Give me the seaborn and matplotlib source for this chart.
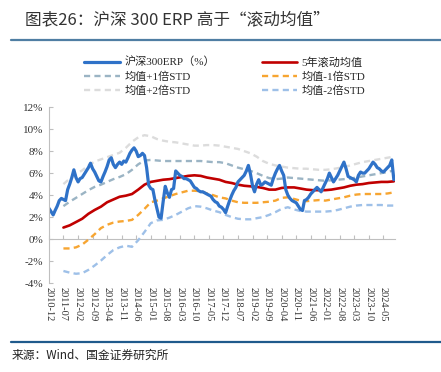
import matplotlib
matplotlib.use("Agg")
import matplotlib.pyplot as plt
from matplotlib.lines import Line2D
import pandas as pd
import seaborn as sns

# ----------- Data (in %) -----------

# 沪深300 ERP, monthly, 2010-12 .. 2024-10
erp_dates = pd.date_range("2010-12-01", periods=167, freq="MS")
erp = [2.8, 2.5, 2.2, 2.6, 3.0, 3.5, 3.7, 3.6, 3.5, 4.5,
       5.0, 5.6, 6.3, 5.6, 5.2, 5.5, 5.6, 5.9, 6.2, 6.5,
       6.9, 6.4, 6.1, 5.7, 5.3, 5.2, 5.7, 6.1, 6.6, 7.2,
       7.4, 6.8, 6.5, 6.8, 7.0, 6.8, 7.1, 7.0, 7.4, 7.8,
       8.1, 8.3, 8.0, 7.5, 7.6, 7.8, 7.6, 6.5, 4.9, 4.6,
       4.5, 3.6, 2.8, 2.0, 1.9, 3.4, 4.8, 4.2, 3.8, 4.5,
       4.6, 6.2, 6.0, 5.8, 5.7, 5.5, 5.5, 5.4, 5.3, 5.0,
       4.7, 4.6, 4.4, 4.3, 4.3, 4.2, 4.1, 4.0, 3.9, 3.6,
       3.4, 3.3, 3.0, 2.9, 2.7, 2.4, 3.0, 3.5, 4.0, 4.4,
       4.7, 5.2, 5.4, 5.6, 5.8, 6.2, 6.7, 5.9, 4.8, 4.3,
       5.0, 5.4, 4.9, 5.0, 5.2, 5.1, 5.0, 4.9, 5.5, 6.0,
       6.4, 6.7, 6.2, 5.8, 4.5, 4.0, 3.7, 3.5, 3.4, 3.3,
       3.0, 2.7, 2.6, 3.5, 3.6, 3.8, 4.1, 4.3, 4.5, 4.7,
       4.5, 4.3, 4.7, 5.1, 5.5, 6.0, 5.6, 5.2, 5.5, 5.8,
       6.2, 6.6, 7.0, 6.4, 5.7, 5.6, 5.5, 5.4, 5.2, 5.8,
       6.1, 6.0, 6.0, 6.2, 6.4, 6.7, 7.0, 6.8, 6.5, 6.4,
       6.2, 6.1, 6.3, 6.5, 6.7, 7.2, 5.4]

# rolling mean and bands, quarterly, 2011-07 .. 2024-10
band_dates = pd.date_range("2011-07-01", periods=54, freq="3MS")
mean5y = [1.05, 1.25, 1.55, 1.85, 2.3, 2.65, 2.95, 3.35, 3.6, 3.85,
          3.95, 4.1, 4.5, 4.95, 5.2, 5.3, 5.4, 5.45, 5.55, 5.65,
          5.75, 5.8, 5.75, 5.6, 5.5, 5.4, 5.2, 5.1, 4.95, 4.85,
          4.8, 4.75, 4.65, 4.5, 4.5, 4.65, 4.7, 4.7, 4.6, 4.5,
          4.45, 4.45, 4.45, 4.5, 4.6, 4.7, 4.85, 4.95, 5.0, 5.1,
          5.15, 5.2, 5.2, 5.25]
plus1 = [3.0, 3.4, 3.75, 4.1, 4.45, 4.75, 4.95, 5.2, 5.45, 5.65,
         5.9, 6.3, 6.8, 7.15, 7.2, 7.15, 7.1, 7.1, 7.1, 7.1,
         7.1, 7.1, 7.1, 7.05, 7.0, 7.0, 6.9, 6.7, 6.5, 6.35,
         6.2, 6.0, 5.75, 5.55, 5.45, 5.5, 5.6, 5.55, 5.5, 5.45,
         5.4, 5.35, 5.3, 5.35, 5.4, 5.45, 5.5, 5.6, 5.7, 5.8,
         5.9, 6.0, 6.1, 6.25]
plus2 = [5.0, 5.5, 5.9, 6.25, 6.7, 7.05, 7.25, 7.45, 7.65, 7.85,
         8.3, 8.85, 9.25, 9.45, 9.35, 9.1, 8.95, 8.85, 8.8, 8.7,
         8.6, 8.5, 8.5, 8.55, 8.55, 8.5, 8.4, 8.3, 8.2, 8.0,
         7.8, 7.5, 7.1, 6.85, 6.7, 6.6, 6.5, 6.45, 6.4, 6.4,
         6.35, 6.3, 6.3, 6.35, 6.45, 6.55, 6.7, 6.85, 7.0, 7.1,
         7.2, 7.3, 7.4, 7.5]
minus1 = [-0.85, -0.85, -0.75, -0.5, -0.05, 0.45, 1.0, 1.3, 1.5, 1.6,
          1.65, 1.75, 2.2, 2.75, 3.35, 3.5, 3.7, 3.9, 4.1, 4.25,
          4.4, 4.4, 4.35, 4.15, 4.0, 3.8, 3.7, 3.5, 3.35, 3.3,
          3.3, 3.3, 3.35, 3.4, 3.5, 3.75, 3.8, 3.65, 3.5, 3.45,
          3.5, 3.55, 3.5, 3.6, 3.7, 3.8, 3.95, 4.05, 4.1, 4.1,
          4.1, 4.1, 4.15, 4.25]
minus2 = [-2.9, -3.05, -3.15, -3.1, -2.8, -2.4, -1.95, -1.45, -1.0, -0.75,
          -0.6, -0.7, -0.1, 0.65, 1.45, 1.7, 1.75, 1.95, 2.2, 2.5,
          2.8, 3.0, 2.95, 2.8, 2.6, 2.45, 2.2, 2.0, 1.85, 1.8,
          1.8, 1.9, 2.0, 2.2, 2.45, 2.75, 2.9, 2.7, 2.55, 2.5,
          2.5, 2.5, 2.5, 2.55, 2.65, 2.8, 2.95, 3.05, 3.1, 3.1,
          3.1, 3.1, 3.05, 3.05]

tick_dates = pd.date_range("2010-12-01", "2024-05-01", freq="7MS")
tick_labels = ["2010-12", "2011-07", "2012-02", "2012-09", "2013-04", "2013-11",
               "2014-06", "2015-01", "2015-08", "2016-03", "2016-10", "2017-05",
               "2017-12", "2018-07", "2019-02", "2019-09", "2020-04", "2020-11",
               "2021-06", "2022-01", "2022-08", "2023-03", "2023-10", "2024-05"]
y_ticks = [-4, -2, 0, 2, 4, 6, 8, 10, 12]
y_labels = ["-4%", "-2%", "0%", "2%", "4%", "6%", "8%", "10%", "12%"]

# ----------- Plot -----------

sns.set_style("white")
plt.rcParams["font.family"] = ["Liberation Serif", "Noto Sans CJK SC"]

fig = plt.figure(figsize=(4.41, 3.72), dpi=100)
ax = fig.add_axes([0.111, 0.239, 0.785, 0.473])

dash = (2.6, 1.8)
bands = [
    (plus1, "均值+1倍STD", "#9bb4c4"),
    (plus2, "均值+2倍STD", "#dcdcdc"),
    (minus1, "均值-1倍STD", "#f7a531"),
    (minus2, "均值-2倍STD", "#9ec0e8"),
]
for vals, name, col in bands:
    sns.lineplot(x=band_dates, y=vals, ax=ax, color=col, lw=1.7,
                 linestyle=(0, dash), label=name)
sns.lineplot(x=band_dates, y=mean5y, ax=ax, color="#c00000", lw=1.9,
             label="5年滚动均值")
sns.lineplot(x=erp_dates, y=erp, ax=ax, color="#2f72c8", lw=2.3,
             label="沪深300ERP（%）")

handles, labels = ax.get_legend_handles_labels()
ax.get_legend().remove()
hmap = dict(zip(labels, handles))
order = ["沪深300ERP（%）", "均值+1倍STD", "均值+2倍STD",
         "5年滚动均值", "均值-1倍STD", "均值-2倍STD"]
fig.legend([hmap[k] for k in order], order, ncol=2, loc="center",
           bbox_to_anchor=(0.51, 0.795), frameon=False, fontsize=8,
           handlelength=3.2, handletextpad=0.4, columnspacing=4.2,
           labelspacing=0.35)

ax.set_xlim(pd.Timestamp("2010-12-01"), pd.Timestamp("2024-10-20"))
ax.set_ylim(-4, 12)
ax.set_yticks(y_ticks)
ax.set_yticklabels(y_labels)
ax.set_xticks(tick_dates)
ax.set_xticklabels(tick_labels, rotation=-90, va="top", ha="center")
ax.set_xlabel("")
ax.set_ylabel("")

for s in ["top", "right", "bottom"]:
    ax.spines[s].set_visible(False)
ax.spines["left"].set_color("#bfbfbf")
ax.tick_params(axis="y", direction="in", length=3, color="#bfbfbf",
               labelsize=8, labelcolor="#333333", pad=4, left=True)
ax.tick_params(axis="x", length=0, labelsize=7.5, labelcolor="#333333", pad=3)

# zero line with its own ticks
zero = ax.secondary_xaxis(0.25)
zero.set_xticks(tick_dates)
zero.set_xticklabels([])
zero.tick_params(direction="in", length=3, color="#bfbfbf")
zero.spines["bottom"].set_color("#bfbfbf")

# title, rules and source
fig.text(0.057, 0.946, "图表26：沪深 300 ERP 高于“滚动均值”", fontsize=12,
         style="italic", va="center", ha="left", color="#333333",
         fontweight="light", family=["Noto Sans CJK SC", "DejaVu Sans"])
fig.add_artist(Line2D([0.025, 1.0], [0.893, 0.893], color="#4f7ea3", lw=1.6))
fig.add_artist(Line2D([0.025, 1.0], [0.081, 0.081], color="#1f5a8c", lw=1.6))
fig.text(0.027, 0.045, "来源：Wind、国金证券研究所", fontsize=8.5,
         va="center", ha="left", color="#222222",
         family=["Noto Sans CJK SC", "DejaVu Sans"])

fig.savefig("out.png", dpi=100)
